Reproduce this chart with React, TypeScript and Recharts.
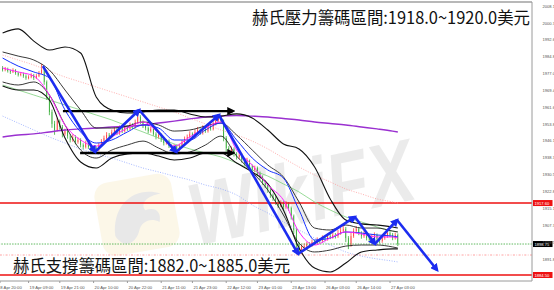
import React from "react"
import { ComposedChart, Bar, Line, XAxis, YAxis, ReferenceLine } from "recharts"

// hourly candles, index 0 = first visible bar
const firstOpen = 1979.7
const closes = [
  1978.8, 1979.3, 1978.3, 1977.9, 1978.8, 1977.4, 1976.5, 1977.0, 1976.0, 1975.1,
  1975.6, 1976.5, 1975.1, 1976.0, 1977.4, 1978.8, 1973.3, 1966.8, 1959.5, 1954.0,
  1951.2, 1955.3, 1952.6, 1949.4, 1950.7, 1948.4, 1946.6, 1948.0, 1945.7, 1946.6,
  1944.3, 1943.4, 1945.2, 1943.4, 1942.0, 1942.9, 1942.0, 1944.3, 1946.1, 1947.5,
  1948.9, 1948.0, 1950.3, 1951.2, 1949.8, 1952.1, 1950.7, 1952.6, 1951.7, 1953.5,
  1952.6, 1954.9, 1957.2, 1954.9, 1953.0, 1952.1, 1950.7, 1951.7, 1949.4, 1948.0,
  1948.9, 1946.6, 1945.2, 1946.1, 1943.8, 1942.9, 1943.8, 1942.0, 1943.8, 1945.7,
  1947.1, 1948.0, 1949.4, 1948.0, 1950.3, 1951.2, 1949.8, 1952.1, 1950.7, 1953.0,
  1951.7, 1954.0, 1955.8, 1956.7, 1955.3, 1947.5, 1942.9, 1941.5, 1942.5, 1940.2,
  1938.8, 1939.7, 1937.4, 1936.0, 1936.9, 1934.6, 1932.8, 1933.7, 1931.4, 1929.6,
  1927.3, 1925.9, 1923.6, 1921.3, 1919.9, 1918.1, 1916.7, 1917.6, 1915.8, 1917.2,
  1915.3, 1911.6, 1905.2, 1898.8, 1895.1, 1897.4, 1897.8, 1898.8, 1898.3, 1899.7,
  1899.2, 1900.6, 1900.1, 1901.5, 1901.1, 1902.4, 1902.0, 1902.9, 1902.4, 1903.8,
  1904.7, 1905.7, 1901.5, 1898.3, 1902.4, 1904.7, 1905.7, 1903.8, 1902.4, 1903.4,
  1901.5, 1900.6, 1902.0, 1902.9, 1901.1, 1900.1, 1901.5, 1902.4, 1903.8, 1902.9,
  1901.5, 1902.9, 1898.8,
]
const highs = [
  1980.6, 1980.2, 1979.9, 1979.0, 1979.6, 1979.2, 1978.0, 1977.9, 1977.6, 1976.8,
  1976.4, 1977.3, 1977.0, 1976.9, 1978.3, 1981.6, 1979.6, 1974.0, 1967.5, 1960.6,
  1955.4, 1956.8, 1956.0, 1953.5, 1951.8, 1951.5, 1949.3, 1949.2, 1948.8, 1947.8,
  1947.4, 1945.1, 1946.3, 1946.0, 1944.2, 1944.0, 1943.7, 1945.2, 1947.0, 1948.6,
  1950.2, 1949.8, 1951.4, 1952.5, 1952.0, 1953.3, 1952.9, 1953.8, 1953.4, 1954.6,
  1954.3, 1956.0, 1959.9, 1958.0, 1955.6, 1953.9, 1952.8, 1952.6, 1952.3, 1950.2,
  1949.8, 1949.6, 1947.4, 1947.0, 1946.8, 1944.6, 1944.7, 1944.4, 1944.9, 1946.6,
  1948.2, 1949.1, 1950.6, 1950.1, 1951.5, 1952.6, 1951.9, 1953.4, 1952.8, 1954.2,
  1953.8, 1955.2, 1957.0, 1958.4, 1957.6, 1956.0, 1948.4, 1943.8, 1943.6, 1943.2,
  1941.0, 1940.8, 1940.4, 1938.1, 1938.4, 1937.6, 1935.3, 1934.8, 1934.4, 1932.1,
  1930.3, 1928.0, 1926.6, 1924.3, 1922.0, 1920.7, 1918.9, 1918.8, 1918.4, 1918.5,
  1918.0, 1916.0, 1912.3, 1906.0, 1899.6, 1898.5, 1899.0, 1899.8, 1899.6, 1900.8,
  1900.6, 1901.8, 1901.4, 1902.7, 1902.4, 1903.6, 1903.4, 1904.1, 1903.8, 1905.2,
  1906.3, 1907.3, 1906.6, 1902.4, 1903.8, 1906.0, 1907.0, 1906.6, 1904.6, 1904.6,
  1904.2, 1902.3, 1903.2, 1904.1, 1903.6, 1901.9, 1902.6, 1903.5, 1905.0, 1904.7,
  1903.8, 1904.0, 1903.6,
]
const lows = [
  1978.1, 1978.2, 1977.6, 1977.0, 1977.4, 1976.6, 1975.8, 1975.9, 1975.2, 1974.3,
  1974.5, 1975.0, 1974.2, 1974.6, 1975.5, 1976.9, 1972.0, 1965.0, 1958.0, 1952.2,
  1949.0, 1950.5, 1951.4, 1947.8, 1948.6, 1947.2, 1945.5, 1945.8, 1944.6, 1944.9,
  1943.2, 1942.2, 1942.7, 1942.5, 1940.9, 1941.1, 1940.6, 1941.4, 1943.6, 1945.4,
  1946.8, 1947.0, 1947.3, 1949.6, 1948.9, 1949.0, 1949.8, 1950.0, 1950.8, 1951.0,
  1951.7, 1952.0, 1954.2, 1954.0, 1952.1, 1951.0, 1949.6, 1950.0, 1948.5, 1946.9,
  1947.2, 1945.7, 1944.1, 1944.5, 1942.9, 1941.8, 1942.1, 1940.8, 1941.3, 1943.0,
  1945.0, 1946.4, 1947.3, 1947.1, 1947.4, 1949.5, 1949.0, 1949.1, 1949.9, 1950.0,
  1950.9, 1951.0, 1953.3, 1955.0, 1954.4, 1946.0, 1941.2, 1940.2, 1940.4, 1939.0,
  1937.6, 1937.9, 1936.2, 1934.8, 1935.1, 1933.4, 1931.5, 1931.8, 1930.2, 1928.3,
  1926.0, 1924.6, 1922.3, 1920.0, 1918.6, 1916.8, 1915.4, 1915.8, 1914.6, 1915.0,
  1914.0, 1910.0, 1903.5, 1896.8, 1893.6, 1894.0, 1896.2, 1896.9, 1897.3, 1897.5,
  1898.3, 1898.4, 1899.1, 1899.3, 1900.0, 1900.3, 1901.0, 1901.2, 1901.3, 1901.6,
  1903.0, 1903.8, 1899.6, 1896.4, 1897.5, 1901.6, 1903.8, 1902.8, 1901.2, 1901.6,
  1900.4, 1899.5, 1899.8, 1901.2, 1900.0, 1899.0, 1899.3, 1900.7, 1901.6, 1902.0,
  1900.5, 1900.8, 1897.8,
]

// indicator lines, sampled every 6 bars
const sampleIdx = [0, 6, 12, 18, 24, 30, 36, 42, 48, 54, 60, 66, 72, 78, 84, 90, 96, 102, 108, 114, 120, 126, 132, 138, 144, 150, 152]
const bbUpper = [1995.8, 1997.7, 1992.1, 1988.0, 1989.4, 1986.6, 1966.4, 1960.4, 1959.0, 1959.5, 1960.4, 1960.4, 1958.6, 1957.2, 1957.6, 1958.6, 1956.7, 1951.2, 1944.8, 1942.5, 1934.2, 1919.5, 1909.8, 1908.0, 1907.5, 1906.6, 1906.1]
const bbLower = [1971.4, 1969.6, 1969.6, 1965.0, 1947.5, 1936.5, 1933.7, 1938.3, 1940.2, 1940.6, 1939.2, 1937.4, 1938.3, 1940.6, 1940.6, 1936.0, 1931.9, 1926.4, 1914.4, 1896.9, 1887.7, 1885.9, 1890.0, 1895.1, 1896.0, 1896.5, 1896.5]
const innerUpper = [1987.1, 1985.2, 1983.4, 1978.8, 1969.6, 1960.4, 1952.1, 1952.1, 1953.0, 1954.9, 1953.5, 1950.7, 1951.2, 1953.0, 1954.4, 1948.9, 1942.0, 1935.1, 1929.6, 1918.1, 1906.1, 1905.2, 1907.5, 1906.1, 1906.1, 1904.7, 1904.3]
const innerLower = [1973.3, 1971.9, 1973.3, 1967.3, 1953.5, 1942.0, 1938.3, 1942.0, 1944.3, 1946.1, 1942.9, 1940.2, 1941.1, 1944.3, 1948.4, 1939.2, 1931.9, 1923.6, 1912.1, 1899.2, 1895.1, 1896.0, 1897.8, 1898.3, 1898.3, 1897.4, 1896.9]
const blueMA = [1984.3, 1980.6, 1977.9, 1975.1, 1960.4, 1950.3, 1945.2, 1946.6, 1950.3, 1953.5, 1952.1, 1946.6, 1946.6, 1951.2, 1954.4, 1946.6, 1938.3, 1932.8, 1929.1, 1914.4, 1900.6, 1901.5, 1904.3, 1903.8, 1902.9, 1902.4, 1902.0]
const magentaMA = [1979.7, 1977.9, 1976.0, 1967.3, 1953.5, 1946.6, 1943.8, 1948.0, 1952.1, 1954.9, 1949.8, 1943.8, 1948.0, 1952.1, 1954.9, 1942.0, 1935.1, 1925.9, 1919.0, 1904.3, 1898.3, 1901.5, 1904.3, 1903.4, 1902.0, 1902.0, 1901.5]
const purpleMA = [1948.0, 1948.9, 1949.4, 1950.3, 1951.2, 1951.7, 1952.1, 1952.6, 1952.8, 1953.5, 1954.4, 1955.3, 1956.3, 1957.2, 1957.6, 1957.9, 1957.6, 1957.2, 1956.5, 1955.8, 1954.9, 1954.2, 1953.5, 1952.6, 1951.7, 1950.7, 1950.3]
const greenMA = [1971.9, 1969.6, 1967.3, 1965.0, 1962.7, 1960.4, 1958.1, 1955.8, 1953.0, 1950.3, 1947.5, 1944.8, 1942.5, 1940.6, 1938.8, 1936.0, 1932.8, 1930.0, 1926.4, 1922.7, 1918.1, 1914.4, 1911.2, 1908.9, 1906.6, 1904.7, 1904.3]
const pinkDots = [1985.7, 1983.4, 1981.1, 1978.3, 1975.6, 1973.3, 1971.0, 1968.7, 1966.4, 1964.1, 1961.8, 1959.5, 1956.7, 1954.0, 1951.2, 1948.9, 1946.1, 1942.5, 1938.3, 1934.2, 1930.5, 1927.3, 1924.1, 1921.8, 1919.5, 1918.1, 1917.6]
const lightBlueDots = [1957.6, 1954.4, 1951.2, 1948.0, 1945.2, 1942.5, 1940.2, 1938.3, 1936.0, 1933.7, 1931.9, 1930.0, 1928.2, 1925.9, 1924.1, 1921.3, 1916.7, 1913.0, 1908.9, 1905.2, 1901.5, 1898.3, 1895.1, 1893.2, 1891.9, 1890.9, 1890.5]

// hand drawn zigzag + range arrows
const zigIdx = [15.5, 35.5, 52.5, 66.7, 83.2, 113.6, 135.5, 143.2, 151.7, 167.1]
const zigPrice = [1980.6, 1941.1, 1960.4, 1941.1, 1958.1, 1894.2, 1911.2, 1898.8, 1909.8, 1886.8]
const rangeTopIdx = [23.2, 88.6]
const rangeTopPrice = 1959.9
const rangeBottomIdx = [29.8, 88.6]
const rangeBottomPrice = 1940.6

const resistanceLevel = 1917.6
const supportLevel = 1884.5
const bidPrice = 1898.75
const pinkLevel = 1893.7

const yTicks = [2008.1, 2000.3, 1992.65, 1984.85, 1977.05, 1969.4, 1961.6, 1953.8, 1946.15, 1938.35, 1930.55, 1922.8, 1915.1, 1907.3, 1899.5, 1891.85]
const xTicks = [-1, 10, 22, 35, 48, 61, 73, 86, 98, 111, 124, 136, 149]
const xLabels = [
  "18 Apr 20:00", "19 Apr 09:00", "19 Apr 21:00", "20 Apr 10:00", "20 Apr 22:00", "21 Apr 11:00",
  "21 Apr 23:00", "22 Apr 12:00", "23 Apr 01:00", "23 Apr 13:00", "26 Apr 03:00", "26 Apr 14:00", "27 Apr 03:00",
]

const topTitle = "赫氏壓力籌碼區間:1918.0~1920.0美元"
const bottomTitle = "赫氏支撐籌碼區間:1882.0~1885.0美元"

const candles = closes.map((c, i) => ({
  x: i,
  open: i === 0 ? firstOpen : closes[i - 1],
  close: c,
  range: [lows[i], highs[i]],
}))
const toLine = (vals: number[]) => sampleIdx.map((x, i) => ({ x, v: vals[i] }))
const zigSegments = zigIdx.slice(1).map((x, i) => [
  { x: zigIdx[i], v: zigPrice[i] },
  { x, v: zigPrice[i + 1] },
])

const Candle = (props: any) => {
  const { x, y, width, height, payload } = props
  if (!payload || height == null) return null
  const [lo, hi] = payload.range
  const span = hi - lo || 1
  const py = (v: number) => y + ((hi - v) / span) * height
  const up = payload.close >= payload.open
  const color = up ? "#ff2020" : "#18a018"
  const top = py(Math.max(payload.open, payload.close))
  const bot = py(Math.min(payload.open, payload.close))
  const cx = x + width / 2
  return (
    <g>
      <line x1={cx} x2={cx} y1={y} y2={y + height} stroke={color} strokeWidth={0.7} />
      <rect x={x} y={top} width={width} height={Math.max(bot - top, 0.7)} fill={color} />
    </g>
  )
}

const PriceTick = (props: any) => {
  const { x, y, payload } = props
  return (
    <text x={x + 2.5} y={y} dy={1.5} fontSize={4.1} fill="#555" fontFamily="Liberation Sans, Arial">
      {Number(payload.value).toFixed(2)}
    </text>
  )
}

const TimeTick = (props: any) => {
  const { x, y, payload } = props
  const i = xTicks.indexOf(payload.value)
  return (
    <text x={i === 0 ? x - 2 : x + 1} y={y + 4} fontSize={4.2} fill="#555" fontFamily="Liberation Sans, Arial">
      {xLabels[i]}
    </text>
  )
}

const AxisTag = (props: any) => {
  const { viewBox, fill, text } = props
  if (!viewBox) return null
  const x0 = viewBox.x + viewBox.width + 1
  return (
    <g>
      <rect x={x0} y={viewBox.y - 3} width={19.5} height={6} fill={fill} />
      <text x={x0 + 1.5} y={viewBox.y + 1.5} fontSize={4.1} fill="#fff" fontFamily="Liberation Sans, Arial">
        {text}
      </text>
    </g>
  )
}

const indicator = (vals: number[], stroke: string, width: number, dash?: string) => (
  <Line
    data={toLine(vals)}
    dataKey="v"
    stroke={stroke}
    strokeWidth={width}
    strokeDasharray={dash}
    dot={false}
    activeDot={false}
    type="monotone"
    isAnimationActive={false}
  />
)

export default function App() {
  return (
    <div style={{ position: "relative", width: 554, height: 290, background: "#fff", overflow: "hidden" }}>
      <style>{`body{margin:0}`}</style>
      {/* watermark + arrow markers */}
      <svg width={554} height={290} style={{ position: "absolute", left: 0, top: 0 }}>
        <defs>
          <marker id="blueHead" viewBox="0 0 10 10" refX="7" refY="5" markerWidth="3.2" markerHeight="3.2" orient="auto" markerUnits="strokeWidth">
            <path d="M0,0 L10,5 L0,10 z" fill="#1c2cf0" />
          </marker>
          <marker id="blackHead" viewBox="0 0 10 10" refX="7" refY="5" markerWidth="3.4" markerHeight="3.4" orient="auto" markerUnits="strokeWidth">
            <path d="M0,0 L10,5 L0,10 z" fill="#000" />
          </marker>
        </defs>
        <g transform="rotate(-10 136 215)" opacity={0.22}>
          <rect x={98} y={178} width={78} height={74} rx={14} fill="#f3dc9a" />
          <path d="M112,232 C114,200 140,186 164,198 C150,198 142,204 146,212 C156,210 162,216 158,226 C150,220 140,222 136,232 C130,244 118,246 112,232 Z" fill="#9a9a9a" />
        </g>
        <text
          x={196}
          y={246}
          fontSize={88}
          fontWeight={700}
          fontStyle="italic"
          fill="#cfcfcf"
          opacity={0.4}
          fontFamily="Liberation Sans, Arial"
          textLength={228}
          lengthAdjust="spacingAndGlyphs"
          transform="rotate(-12 196 246)"
        >
          WikiFX
        </text>
      </svg>
      <div style={{ position: "absolute", left: 0, top: 0 }}>
        <ComposedChart width={554} height={290} data={candles} margin={{ top: 2, right: 0, bottom: 0, left: 0 }}>
          <XAxis
            dataKey="x"
            type="number"
            domain={[-1, 203.6]}
            ticks={xTicks}
            interval={0}
            allowDataOverflow
            height={9}
            axisLine={{ stroke: "#9a9a9a" }}
            tickLine={{ stroke: "#9a9a9a" }}
            tickSize={2}
            tick={<TimeTick />}
          />
          <YAxis
            orientation="right"
            type="number"
            domain={[1881.74, 2010.08]}
            ticks={yTicks}
            interval={0}
            allowDataOverflow
            width={22}
            axisLine={{ stroke: "#9a9a9a" }}
            tickLine={false}
            tick={<PriceTick />}
          />
          <ReferenceLine y={2010.08} stroke="#a0a0a0" strokeWidth={1.5} />
          <ReferenceLine y={pinkLevel} stroke="#ff8a8a" strokeWidth={0.8} strokeDasharray="2 1.5 0.7 1.5" />
          <ReferenceLine y={bidPrice} stroke="#38a838" strokeWidth={0.8} strokeDasharray="1.5 1.2" label={<AxisTag fill="#000" text="1898.75" />} />
          <ReferenceLine y={resistanceLevel} stroke="#ee1111" strokeWidth={1.4} label={<AxisTag fill="#ee1111" text="1917.60" />} />
          <ReferenceLine y={supportLevel} stroke="#ee1111" strokeWidth={1.4} label={<AxisTag fill="#ee1111" text="1884.50" />} />
          <Bar dataKey="range" barSize={2} shape={<Candle />} isAnimationActive={false} />
          {indicator(lightBlueDots, "#8fa6ff", 0.8, "1 1.5")}
          {indicator(pinkDots, "#ff9a9a", 0.8, "1 1.5")}
          {indicator(greenMA, "#7ed07e", 0.8)}
          {indicator(purpleMA, "#9a30d0", 1.4)}
          {indicator(bbUpper, "#111", 1.1)}
          {indicator(bbLower, "#111", 1.1)}
          {indicator(innerUpper, "#222", 0.9)}
          {indicator(innerLower, "#222", 0.9)}
          {indicator(blueMA, "#1530ff", 1)}
          {indicator(magentaMA, "#ff22ff", 1)}
          <Line
            data={[{ x: rangeTopIdx[0], v: rangeTopPrice }, { x: rangeTopIdx[1], v: rangeTopPrice }]}
            dataKey="v"
            stroke="#000"
            strokeWidth={2.4}
            dot={false}
            activeDot={false}
            markerEnd="url(#blackHead)"
            isAnimationActive={false}
          />
          <Line
            data={[{ x: rangeBottomIdx[0], v: rangeBottomPrice }, { x: rangeBottomIdx[1], v: rangeBottomPrice }]}
            dataKey="v"
            stroke="#000"
            strokeWidth={2.4}
            dot={false}
            activeDot={false}
            markerEnd="url(#blackHead)"
            isAnimationActive={false}
          />
          {zigSegments.map((seg, k) => (
            <Line
              key={k}
              data={seg}
              dataKey="v"
              stroke="#1c2cf0"
              strokeWidth={2.6}
              dot={false}
              activeDot={false}
              markerEnd="url(#blueHead)"
              isAnimationActive={false}
            />
          ))}
        </ComposedChart>
      </div>
      {/* annotation titles */}
      <svg width={554} height={290} style={{ position: "absolute", left: 0, top: 0, pointerEvents: "none" }}>
        <text x={252} y={24} fontSize={17} fill="#111" fontFamily="Noto Sans CJK TC" textLength={278} lengthAdjust="spacingAndGlyphs">
          {topTitle}
        </text>
        <text x={13} y={272} fontSize={17} fill="#111" fontFamily="Noto Sans CJK TC" textLength={277} lengthAdjust="spacingAndGlyphs">
          {bottomTitle}
        </text>
      </svg>
    </div>
  )
}
